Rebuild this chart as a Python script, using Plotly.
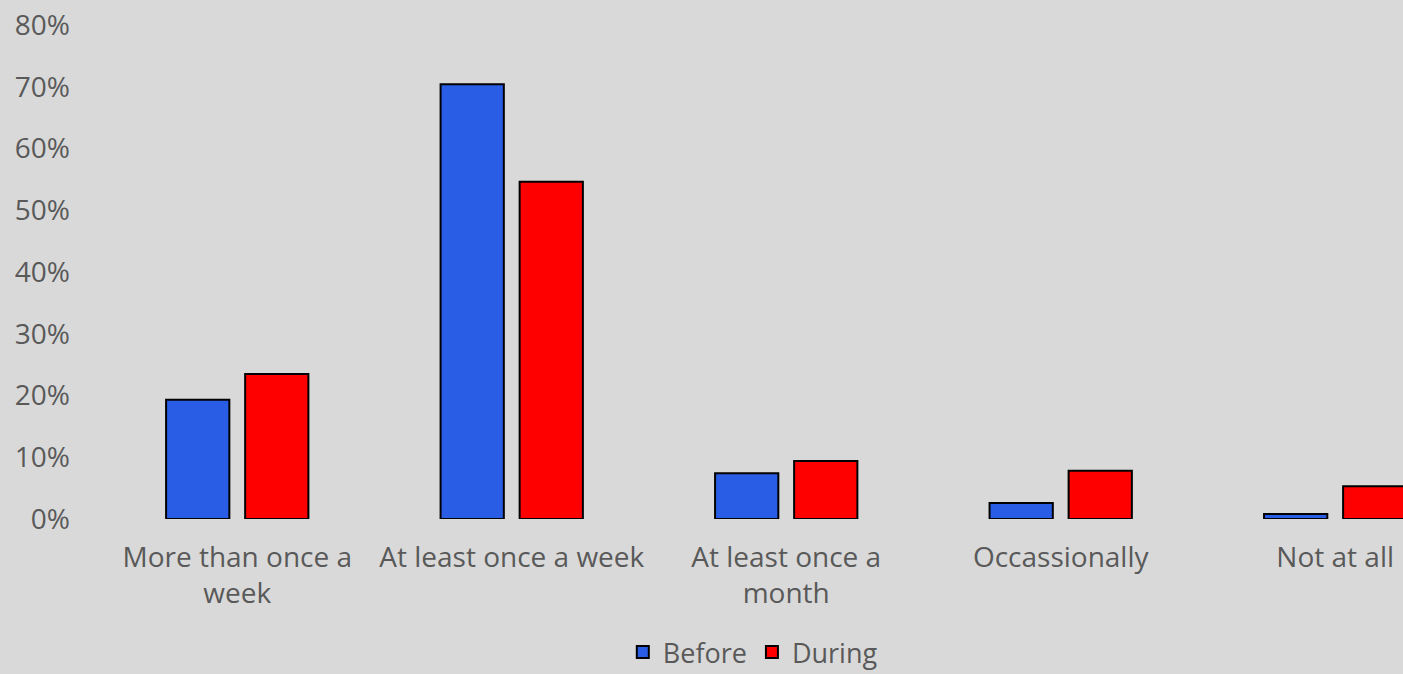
import plotly.graph_objects as go

categories = ["More than once a<br>week", "At least once a week", "At least once a<br>month", "Occassionally", "Not at all"]
before = [0.193, 0.704, 0.074, 0.026, 0.008]
during = [0.235, 0.546, 0.094, 0.078, 0.053]
y_ticks = [0, 0.1, 0.2, 0.3, 0.4, 0.5, 0.6, 0.7, 0.8]
y_labels = ["0%", "10%", "20%", "30%", "40%", "50%", "60%", "70%", "80%"]

fig = go.Figure()
fig.add_trace(go.Bar(name="Before", x=categories, y=before,
                     marker=dict(color="#2a5de6", line=dict(color="black", width=2))))
fig.add_trace(go.Bar(name="During", x=categories, y=during,
                     marker=dict(color="#ff0000", line=dict(color="black", width=2))))

FONT = "Open Sans, sans-serif"
fig.update_layout(
    width=1403, height=674,
    paper_bgcolor="#d9d9d9", plot_bgcolor="#d9d9d9",
    barmode="group", bargap=0.424, bargroupgap=0.2,
    margin=dict(l=100, r=0, t=25, b=155, autoexpand=False),
    font=dict(family=FONT, size=28, color="#595959"),
    showlegend=True,
    legend=dict(orientation="h", x=0.501, xanchor="center",
                yref="container", y=0.032, yanchor="middle",
                font=dict(family=FONT, size=27, color="#595959"),
                traceorder="normal", itemwidth=30),
    xaxis=dict(range=[-0.5, 4.247], showgrid=False, zeroline=False, showline=False,
               ticks="", ticklabelstandoff=19, automargin=False,
               tickfont=dict(family=FONT, size=28, color="#595959")),
    yaxis=dict(range=[0, 0.8], tickvals=y_ticks, ticktext=y_labels, showgrid=False,
               zeroline=False, showline=False, ticks="", ticklabelstandoff=29,
               automargin=False,
               tickfont=dict(family=FONT, size=28, color="#595959")),
)

fig.write_html(
    "out.html",
    config={"displayModeBar": False},
    post_script="document.body.style.margin='0';document.body.style.background='#d9d9d9';"
                "document.documentElement.style.overflow='hidden';",
)
